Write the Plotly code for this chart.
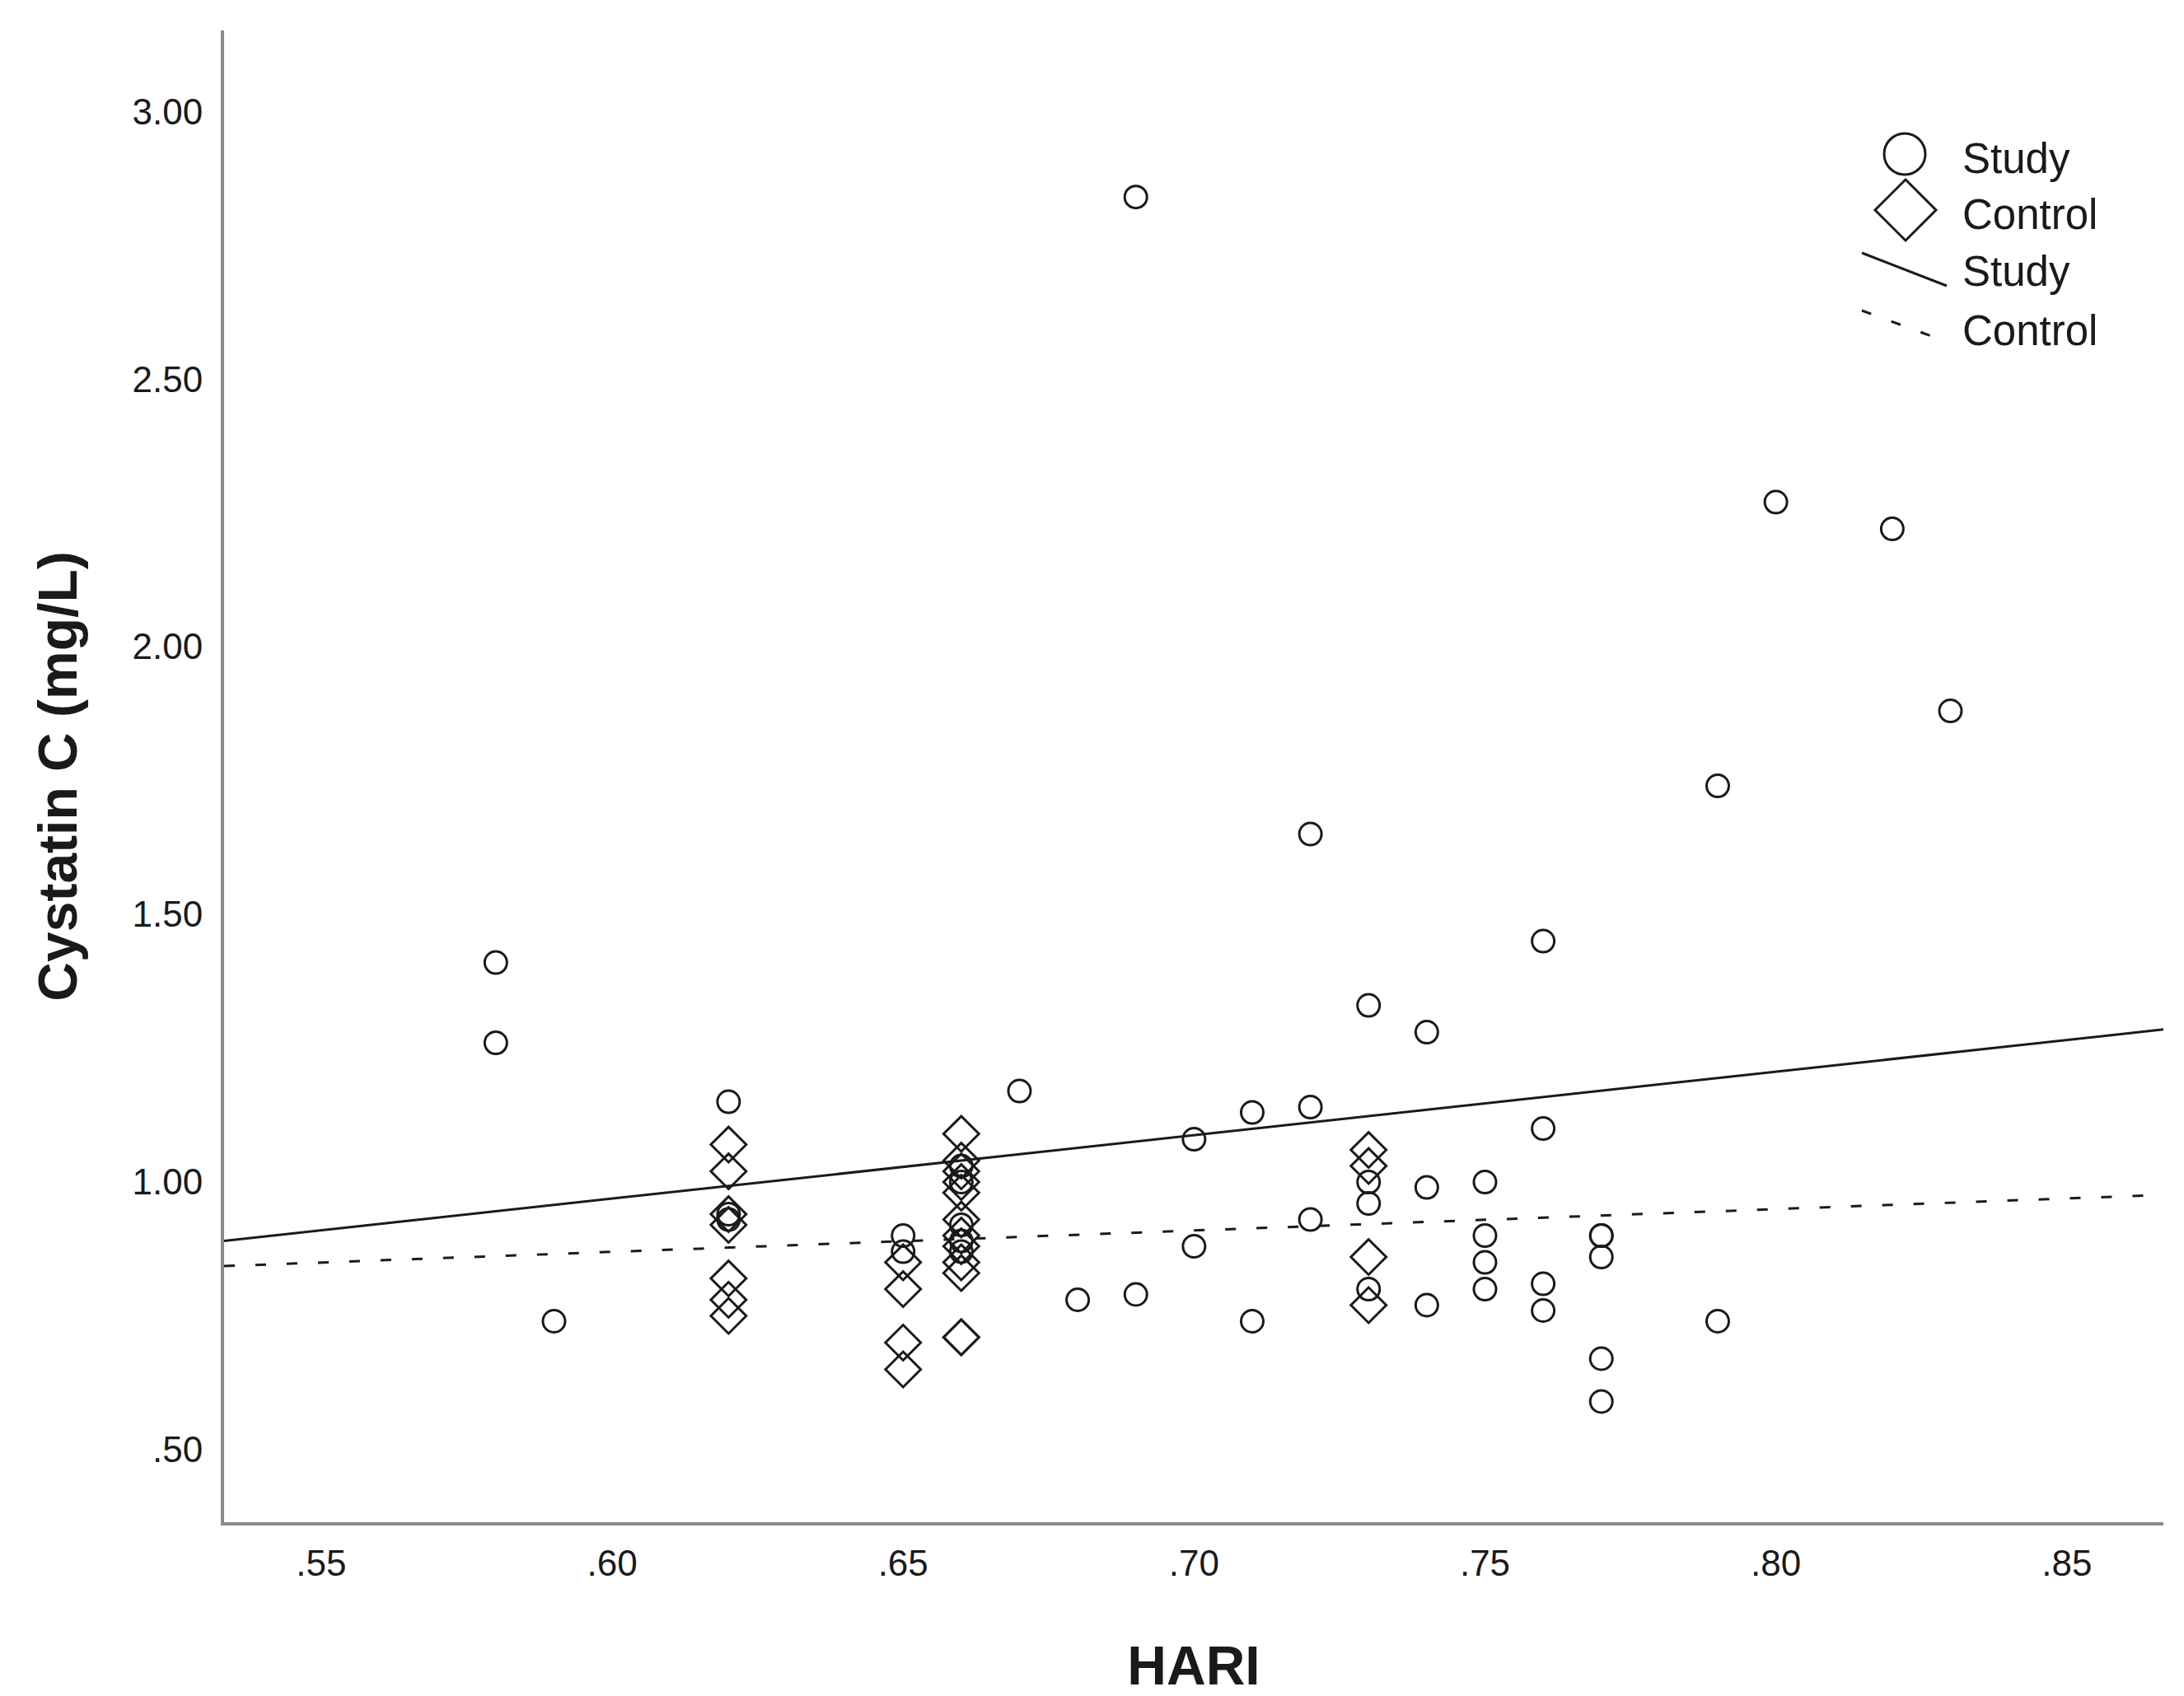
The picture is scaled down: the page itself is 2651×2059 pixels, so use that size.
import plotly.graph_objects as go

# HARI vs Cystatin C
study_x = [0.58, 0.58, 0.59, 0.62, 0.62, 0.62, 0.65, 0.65,
           0.66, 0.66, 0.66, 0.66, 0.66, 0.67, 0.68, 0.69, 0.69,
           0.70, 0.70, 0.71, 0.71, 0.72, 0.72, 0.72,
           0.73, 0.73, 0.73, 0.73, 0.74, 0.74, 0.74,
           0.75, 0.75, 0.75, 0.75, 0.76, 0.76, 0.76, 0.76,
           0.77, 0.77, 0.77, 0.77, 0.77, 0.79, 0.79, 0.80, 0.82, 0.83]
study_y = [1.41, 1.26, 0.74, 1.15, 0.94, 0.93, 0.90, 0.87,
           1.03, 1.00, 0.92, 0.89, 0.87, 1.17, 0.78, 2.84, 0.79,
           1.08, 0.88, 1.13, 0.74, 1.65, 1.14, 0.93,
           1.33, 1.00, 0.96, 0.80, 1.28, 0.99, 0.77,
           1.00, 0.90, 0.85, 0.80, 1.45, 1.10, 0.81, 0.76,
           0.90, 0.90, 0.86, 0.67, 0.59, 1.74, 0.74, 2.27, 2.22, 1.88]

control_x = [0.62, 0.62, 0.62, 0.62, 0.62, 0.62, 0.62,
             0.65, 0.65, 0.65, 0.65,
             0.66, 0.66, 0.66, 0.66, 0.66, 0.66, 0.66, 0.66, 0.66, 0.66, 0.66, 0.66,
             0.73, 0.73, 0.73, 0.73]
control_y = [1.07, 1.02, 0.94, 0.92, 0.82, 0.78, 0.75,
             0.85, 0.80, 0.70, 0.65,
             1.09, 1.04, 1.02, 1.00, 0.98, 0.93, 0.90, 0.88, 0.85, 0.83, 0.71, 0.71,
             1.06, 1.03, 0.86, 0.77]

# fit lines (ends at the axis limits)
fit_x = [0.5333, 0.8666]
study_fit = [0.890, 1.285]
control_fit = [0.843, 0.976]

x_ticks = [0.55, 0.60, 0.65, 0.70, 0.75, 0.80, 0.85]
x_labels = [".55", ".60", ".65", ".70", ".75", ".80", ".85"]
y_ticks = [0.5, 1.0, 1.5, 2.0, 2.5, 3.0]
y_labels = [".50", "1.00", "1.50", "2.00", "2.50", "3.00"]

W, H = 2651, 2059
L, R, T, B = 272, 25, 37, 211
FONT = "Liberation Sans, Arial, sans-serif"
INK = "#1a1a1a"


def px(x):
    return (x - L) / (W - L - R)


def py(y):
    return (H - B - y) / (H - T - B)


fig = go.Figure()

fig.add_trace(go.Scatter(
    x=fit_x, y=study_fit, mode="lines",
    line=dict(color=INK, width=3), showlegend=False, hoverinfo="skip"))
fig.add_trace(go.Scatter(
    x=fit_x, y=control_fit, mode="lines",
    line=dict(color=INK, width=3, dash="13px,25px"), showlegend=False, hoverinfo="skip"))

fig.add_trace(go.Scatter(
    x=study_x, y=study_y, mode="markers", name="Study",
    marker=dict(symbol="circle-open", size=27, color=INK, line=dict(width=3, color=INK)),
    showlegend=False))
fig.add_trace(go.Scatter(
    x=control_x, y=control_y, mode="markers", name="Control",
    marker=dict(symbol="diamond-open", size=33, color=INK, line=dict(width=3, color=INK)),
    showlegend=False))

# legend drawn by hand, SPSS style
shapes = [
    dict(type="circle", xref="paper", yref="paper",
         x0=px(2287), x1=px(2337), y0=py(212), y1=py(162),
         line=dict(color=INK, width=3)),
    dict(type="path", xref="paper", yref="paper",
         path=f"M {px(2313)},{py(218)} L {px(2350)},{py(255)} L {px(2313)},{py(292)} L {px(2276)},{py(255)} Z",
         line=dict(color=INK, width=3)),
    dict(type="line", xref="paper", yref="paper",
         x0=px(2260), y0=py(307), x1=px(2363), y1=py(347),
         line=dict(color=INK, width=3)),
    dict(type="line", xref="paper", yref="paper",
         x0=px(2260), y0=py(377), x1=px(2347), y1=py(409),
         line=dict(color=INK, width=3, dash="12px,26px")),
]
annotations = []
for label, yc in [("Study", 193), ("Control", 260), ("Study", 330), ("Control", 402)]:
    annotations.append(dict(
        text=label, xref="paper", yref="paper", x=px(2380), y=py(yc),
        xanchor="left", yanchor="middle", showarrow=False,
        font=dict(family=FONT, size=51, color=INK)))

fig.update_layout(
    width=W, height=H,
    margin=dict(l=L, r=R, t=T, b=B),
    paper_bgcolor="white", plot_bgcolor="white",
    font=dict(family=FONT, color=INK),
    shapes=shapes, annotations=annotations,
    xaxis=dict(
        range=[0.5333, 0.8666], tickvals=x_ticks, ticktext=x_labels,
        showgrid=False, zeroline=False, ticks="",
        showline=True, linecolor="#8a8a8a", linewidth=4,
        tickfont=dict(family=FONT, size=44, color=INK),
        ticklabelstandoff=8,
        title=dict(text="<b>HARI</b>", font=dict(family=FONT, size=66, color=INK), standoff=80)),
    yaxis=dict(
        range=[0.3646, 3.151], tickvals=y_ticks, ticktext=y_labels,
        showgrid=False, zeroline=False, ticks="",
        showline=True, linecolor="#8a8a8a", linewidth=4,
        tickfont=dict(family=FONT, size=44, color=INK),
        ticklabelstandoff=13,
        title=dict(text="<b>Cystatin C (mg/L)</b>", font=dict(family=FONT, size=66, color=INK), standoff=46)),
)

# drop the default 8px page margin so the figure fills the window exactly
fig.write_html("out.html", config={"displayModeBar": False},
               post_script="document.body.style.margin='0';")
